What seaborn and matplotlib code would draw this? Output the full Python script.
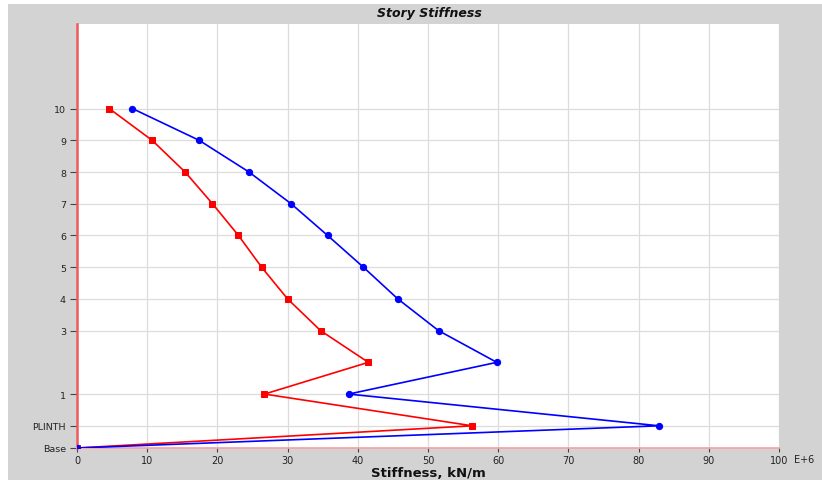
import matplotlib
matplotlib.use("Agg")
import matplotlib.pyplot as plt
import matplotlib.patches as mpatches
import seaborn as sns
import pandas as pd

stories = ["Base", "PLINTH", "1", "2", "3", "4", "5", "6", "7", "8", "9", "10"]
elevations = [0.0, 2.1, 5.1, 8.1, 11.1, 14.1, 17.1, 20.1, 23.1, 26.1, 29.1, 32.1]
blue_vals = [0.0, 82.9, 38.7, 59.8, 51.5, 45.7, 40.8, 35.7, 30.5, 24.5, 17.4, 7.9]
red_vals = [0.0, 56.3, 26.7, 41.5, 34.7, 30.0, 26.3, 23.0, 19.3, 15.4, 10.7, 4.6]
tick_stories = ["Base", "PLINTH", "1", "3", "4", "5", "6", "7", "8", "9", "10"]
x_ticks = [0, 10, 20, 30, 40, 50, 60, 70, 80, 90, 100]

sns.set_style("white")
plt.rcParams["font.family"] = ["DejaVu Sans"]

W, H = 822, 481
GRAY = "#d3d3d3"
fig = plt.figure(figsize=(W / 100, H / 100), dpi=100, facecolor=GRAY)
# white strips on the left and top edges
fig.patches.append(mpatches.Rectangle((0, 0), 8 / W, 1, transform=fig.transFigure,
                                      facecolor="white", edgecolor="none", zorder=-5))
fig.patches.append(mpatches.Rectangle((0, 1 - 5 / H), 1, 5 / H, transform=fig.transFigure,
                                      facecolor="white", edgecolor="none", zorder=-5))
ax = fig.add_axes([77 / W, (H - 449) / H, (779 - 77) / W, (449 - 25) / H])
ax.set_facecolor("white")

elev_map = dict(zip(stories, elevations))
df_b = pd.DataFrame({"x": blue_vals, "y": elevations})
df_r = pd.DataFrame({"x": red_vals, "y": elevations})

sns.lineplot(data=df_r, x="x", y="y", sort=False, estimator=None, ax=ax,
             color="#ff0000", lw=1.2, marker="s", markersize=4.5,
             markeredgecolor="#ff0000", zorder=3)
sns.lineplot(data=df_b, x="x", y="y", sort=False, estimator=None, ax=ax,
             color="#0000ff", lw=1.2, marker="o", markersize=4.5,
             markeredgecolor="#0000ff", zorder=3)

ax.set_xlim(0, 100)
ax.set_ylim(0, 40.1)
ax.set_xticks(x_ticks)
ax.set_xticklabels([str(t) for t in x_ticks], fontsize=7, color="#222222")
ax.set_yticks([elev_map[s] for s in tick_stories])
ax.set_yticklabels(tick_stories, fontsize=6.8, color="#222222")
ax.tick_params(axis="y", length=5, width=0.8, color="#444444", pad=3, left=True)
ax.tick_params(axis="x", length=3, width=0.8, color="#444444", pad=2, bottom=True)

ax.grid(True, color="#dcdcdc", lw=0.9)
ax.set_axisbelow(True)
for s in ["top", "right"]:
    ax.spines[s].set_visible(False)
ax.spines["left"].set_color("#f05a5a")
ax.spines["left"].set_linewidth(1.8)
ax.spines["bottom"].set_color("#f7a0a0")
ax.spines["bottom"].set_linewidth(1.2)

ax.set_xlabel("")
ax.set_ylabel("")
fig.text(429 / W, 1 - 14 / H, "Story Stiffness", ha="center", va="center",
         fontsize=9, fontweight="bold", fontstyle="italic", color="#111111")
fig.text(428 / W, 1 - 474 / H, "Stiffness, kN/m", ha="center", va="center",
         fontsize=9.5, fontweight="bold", color="#111111")
fig.text(794 / W, 1 - 460 / H, "E+6", ha="left", va="center",
         fontsize=7, color="#222222")

fig.savefig("out.png", dpi=100, facecolor=GRAY)
